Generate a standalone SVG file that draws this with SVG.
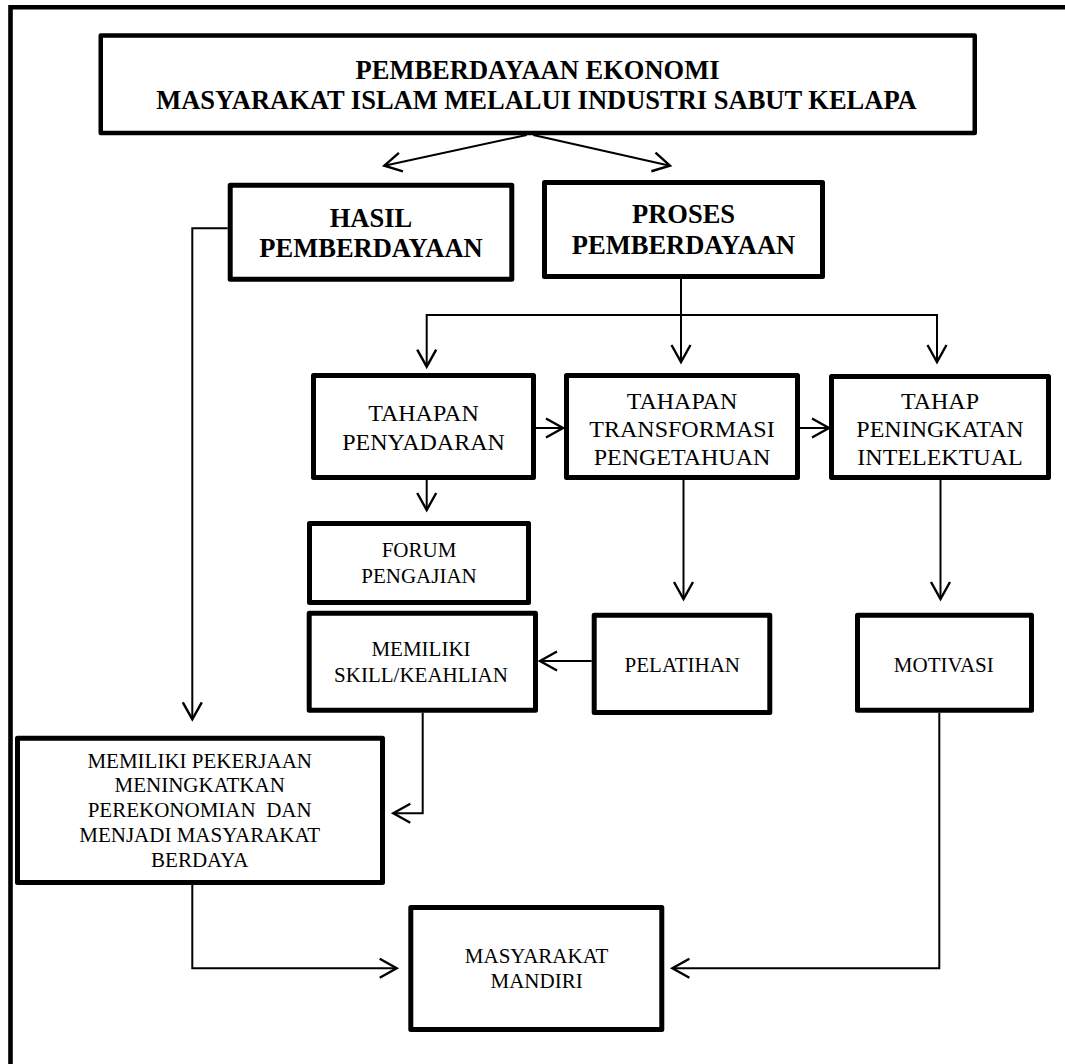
<svg xmlns="http://www.w3.org/2000/svg" width="1065" height="1064" viewBox="0 0 1065 1064">
<style>
.box{fill:#fff;stroke:#000;stroke-width:5;stroke-linejoin:round}
.t{font-family:"Liberation Serif","Times New Roman",serif;fill:#000;text-anchor:middle}
.b{font-weight:bold;font-size:26.5px}
.m{font-size:24px}
.s{font-size:21px}
.c{fill:none;stroke:#000;stroke-width:2}
.a{marker-end:url(#ah)}
</style>
<defs>
<marker id="ah" markerUnits="userSpaceOnUse" markerWidth="24" markerHeight="24" viewBox="-20 -12 24 24" refX="0" refY="0" orient="auto">
<path d="M-17,-9.5 L0,0 L-17,9.5" fill="none" stroke="#000" stroke-width="2.4" stroke-linejoin="miter"/>
</marker>
</defs>
<rect width="1065" height="1064" fill="#fff"/>
<path d="M10.5,1064 V7.2 H1065" fill="none" stroke="#000" stroke-width="4.6"/>

<g id="connectors">
<path class="c a" d="M526.7,135 L384.3,165.7"/>
<path class="c a" d="M533.3,135 L670,165.7"/>
<path class="c a" d="M227.7,228.3 H192.3 V719.3"/>
<path class="c a" d="M681,279 V362"/>
<path class="c" d="M426.7,315 H937"/>
<path class="c a" d="M426.7,314 V366.7"/>
<path class="c a" d="M937,314 V362"/>
<path class="c a" d="M536,428 H563"/>
<path class="c a" d="M800,428 H829"/>
<path class="c a" d="M426.7,480 V510"/>
<path class="c a" d="M683.5,480 V599"/>
<path class="c a" d="M940.5,480 V599"/>
<path class="c a" d="M591.7,661 H540"/>
<path class="c a" d="M422.7,712.7 V813.3 H393.3"/>
<path class="c a" d="M192.3,885 V968.3 H396.7"/>
<path class="c a" d="M939.3,712.7 V968.3 H672.4"/>
</g>

<g id="title">
<rect class="box" style="stroke-width:4.5" x="100.75" y="35.5" width="874" height="97.5"/>
<text class="t b" x="537.5" y="79">PEMBERDAYAAN EKONOMI</text>
<text class="t b" x="536.5" y="109">MASYARAKAT ISLAM MELALUI INDUSTRI SABUT KELAPA</text>
</g>

<g id="hasil">
<rect class="box" x="230.2" y="185.2" width="281.6" height="94"/>
<text class="t b" x="371" y="227">HASIL</text>
<text class="t b" x="371" y="257">PEMBERDAYAAN</text>
</g>

<g id="proses">
<rect class="box" x="544.5" y="182.5" width="278" height="94"/>
<text class="t b" x="683.5" y="223">PROSES</text>
<text class="t b" x="683.5" y="254">PEMBERDAYAAN</text>
</g>

<g id="penyadaran">
<rect class="box" x="313.5" y="375.5" width="220" height="102"/>
<text class="t m" x="423.5" y="420.7">TAHAPAN</text>
<text class="t m" x="423.5" y="450">PENYADARAN</text>
</g>

<g id="transformasi">
<rect class="box" x="566.5" y="375.5" width="231" height="102"/>
<text class="t m" x="682" y="409">TAHAPAN</text>
<text class="t m" x="682" y="437">TRANSFORMASI</text>
<text class="t m" x="682" y="465">PENGETAHUAN</text>
</g>

<g id="intelektual">
<rect class="box" x="831.5" y="376.5" width="217" height="101"/>
<text class="t m" x="940" y="409">TAHAP</text>
<text class="t m" x="940" y="437">PENINGKATAN</text>
<text class="t m" x="940" y="465">INTELEKTUAL</text>
</g>

<g id="forum">
<rect class="box" x="309.5" y="523.5" width="219" height="79"/>
<text class="t s" x="419" y="556.7">FORUM</text>
<text class="t s" x="419" y="583">PENGAJIAN</text>
</g>

<g id="skill">
<rect class="box" x="309.2" y="613.2" width="226.3" height="97"/>
<text class="t s" x="421" y="655.7">MEMILIKI</text>
<text class="t s" x="421" y="681.7">SKILL/KEAHLIAN</text>
</g>

<g id="pelatihan">
<rect class="box" x="594.2" y="615.2" width="175.6" height="97.3"/>
<text class="t s" x="682.3" y="671.7">PELATIHAN</text>
</g>

<g id="motivasi">
<rect class="box" x="857.5" y="615.2" width="174" height="95"/>
<text class="t s" x="943.8" y="671.7">MOTIVASI</text>
</g>

<g id="pekerjaan">
<rect class="box" x="17.5" y="738.2" width="365" height="144.3"/>
<text class="t s" x="199.7" y="768.3">MEMILIKI PEKERJAAN</text>
<text class="t s" x="199.7" y="792">MENINGKATKAN</text>
<text class="t s" x="199.7" y="816.7" xml:space="preserve" style="white-space:pre">PEREKONOMIAN  DAN</text>
<text class="t s" x="199.7" y="841.7">MENJADI MASYARAKAT</text>
<text class="t s" x="199.7" y="866.7">BERDAYA</text>
</g>

<g id="mandiri">
<rect class="box" x="410.8" y="907.5" width="251" height="122"/>
<text class="t s" x="536.6" y="963">MASYARAKAT</text>
<text class="t s" x="536.6" y="988">MANDIRI</text>
</g>
</svg>
